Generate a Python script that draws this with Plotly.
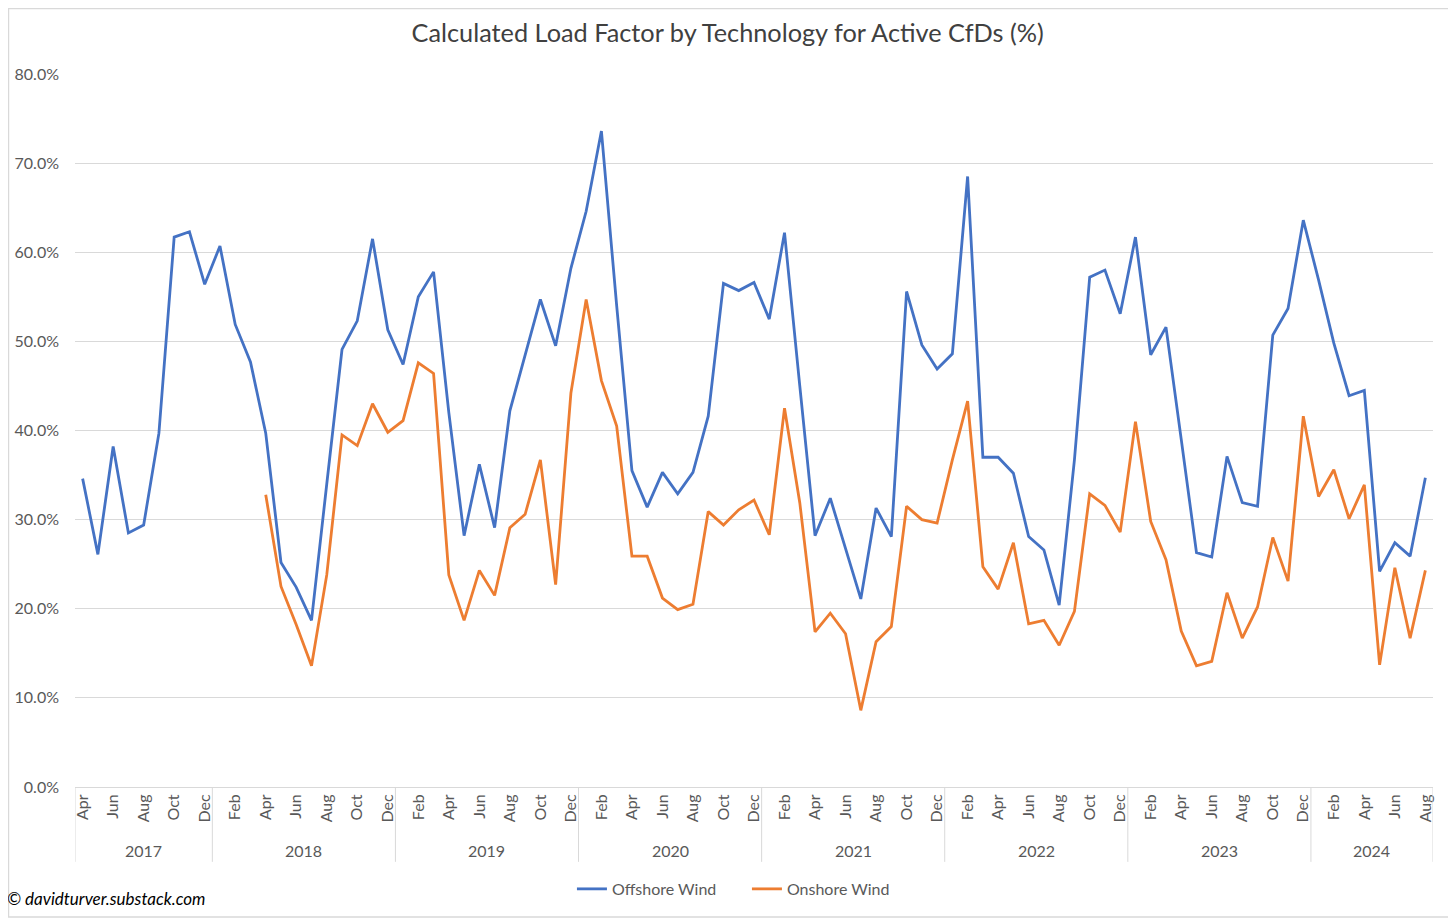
import plotly.graph_objects as go

# ---- data ----
start_year = 2017
start_month = 4  # April
n_months = 89
month_abbr = ["Jan", "Feb", "Mar", "Apr", "May", "Jun", "Jul", "Aug", "Sep", "Oct", "Nov", "Dec"]

offshore = [34.6, 26.1, 38.2, 28.5, 29.4, 39.7, 61.7, 62.3, 56.4, 60.7, 51.9, 47.7,
            39.7, 25.2, 22.4, 18.7, 34.0, 49.1, 52.3, 61.5, 51.3, 47.4, 55.0, 57.8,
            42.0, 28.2, 36.2, 29.1, 42.2, 48.3, 54.7, 49.5, 58.2, 64.6, 73.6, 54.0,
            35.5, 31.4, 35.3, 32.9, 35.3, 41.6, 56.5, 55.7, 56.6, 52.5, 62.2, 45.0,
            28.2, 32.4, 26.8, 21.1, 31.3, 28.1, 55.6, 49.6, 46.9, 48.6, 68.5, 37.0,
            37.0, 35.2, 28.1, 26.6, 20.4, 36.7, 57.2, 58.0, 53.1, 61.7, 48.5, 51.6,
            39.0, 26.3, 25.8, 37.1, 31.9, 31.5, 50.7, 53.7, 63.6, 56.9, 49.8, 43.9,
            44.5, 24.2, 27.4, 25.9, 34.7]

onshore = [None] * 12 + [
            32.8, 22.5, 18.2, 13.6, 23.8, 39.5, 38.3, 43.0, 39.8, 41.1, 47.6, 46.4,
            23.8, 18.7, 24.3, 21.5, 29.1, 30.6, 36.7, 22.7, 44.2, 54.7, 45.6, 40.5,
            25.9, 25.9, 21.2, 19.9, 20.5, 30.9, 29.4, 31.1, 32.2, 28.3, 42.5, 31.9,
            17.4, 19.5, 17.2, 8.6, 16.3, 18.0, 31.5, 30.0, 29.6, 36.7, 43.3, 24.7,
            22.2, 27.4, 18.3, 18.7, 15.9, 19.7, 32.9, 31.6, 28.6, 41.0, 29.8, 25.5,
            17.5, 13.6, 14.1, 21.8, 16.7, 20.2, 28.0, 23.1, 41.6, 32.6, 35.6, 30.1,
            33.9, 13.7, 24.6, 16.7, 24.3]

# build month / year categories
months, years = [], []
y, m = start_year, start_month
for _ in range(n_months):
    months.append(month_abbr[m - 1])
    years.append(y)
    m += 1
    if m > 12:
        m = 1
        y += 1

xidx = list(range(n_months))
tickvals = xidx[::2]
ticktext = [months[i] for i in tickvals]

FONT = "Lato"
GRAY = "#595959"
GRID = "#D9D9D9"

fig = go.Figure()
fig.add_trace(go.Scatter(x=xidx, y=offshore, mode="lines", name="Offshore Wind",
                         line=dict(color="#4472C4", width=2.8)))
fig.add_trace(go.Scatter(x=xidx, y=onshore, mode="lines", name="Onshore Wind",
                         line=dict(color="#ED7D31", width=2.8)))

# year groupings
year_groups = {}
for i, yr in enumerate(years):
    year_groups.setdefault(yr, []).append(i)

shapes = []
annotations = []
div_bottom = -0.105
bounds = [-0.5]
for yr, idxs in year_groups.items():
    center = (idxs[0] + idxs[-1]) / 2
    annotations.append(dict(x=center, y=-0.0895, xref="x", yref="paper", text=str(yr),
                            showarrow=False, font=dict(family=FONT, size=16, color=GRAY),
                            xanchor="center", yanchor="middle"))
    bounds.append(idxs[-1] + 0.5)
for b in bounds:
    shapes.append(dict(type="line", xref="x", yref="paper", x0=b, x1=b, y0=0, y1=div_bottom,
                       line=dict(color=GRID, width=1)))

# outer chart border (edges of the figure)
shapes.append(dict(type="rect", xref="paper", yref="paper",
                   x0=-0.0490, x1=1.0155, y0=-0.1823, y1=1.0918,
                   line=dict(color=GRID, width=1.5), fillcolor="rgba(0,0,0,0)"))

annotations.append(dict(x=-0.0515, y=-0.1557, xref="paper", yref="paper",
                        text="<i>© davidturver.substack.com</i>", showarrow=False,
                        xanchor="left", yanchor="middle",
                        font=dict(family=FONT, size=17, color="#000000")))

fig.update_layout(
    width=1448, height=911, autosize=False,
    margin=dict(l=67, r=23, t=66, b=132, autoexpand=False),
    paper_bgcolor="white", plot_bgcolor="white",
    font=dict(family=FONT, color=GRAY),
    title=dict(text="Calculated Load Factor by Technology for Active CfDs (%)",
               x=0.497, xref="container", xanchor="center",
               y=1 - 25 / 911, yref="container", yanchor="middle",
               font=dict(family=FONT, size=25.3, color="#404040")),
    xaxis=dict(range=[-0.5, 88.5], tickmode="array", tickvals=tickvals, ticktext=ticktext,
               tickangle=-90, showgrid=False, zeroline=False, showline=True,
               linecolor=GRID, linewidth=1, ticks="",
               tickfont=dict(family=FONT, size=16, color=GRAY)),
    yaxis=dict(range=[0, 80], dtick=10, tickformat=".1f", ticksuffix="%",
               showgrid=True, gridcolor=GRID, gridwidth=1, zeroline=False,
               showline=False, ticks="", ticklabelstandoff=15,
               tickfont=dict(family=FONT, size=16, color=GRAY)),
    legend=dict(orientation="h", xref="paper", x=0.4948, xanchor="center",
                yref="paper", y=-0.143, yanchor="middle", entrywidth=130,
                font=dict(family=FONT, size=16, color=GRAY)),
    shapes=shapes,
    annotations=annotations,
)

fig.write_html("out.html")
